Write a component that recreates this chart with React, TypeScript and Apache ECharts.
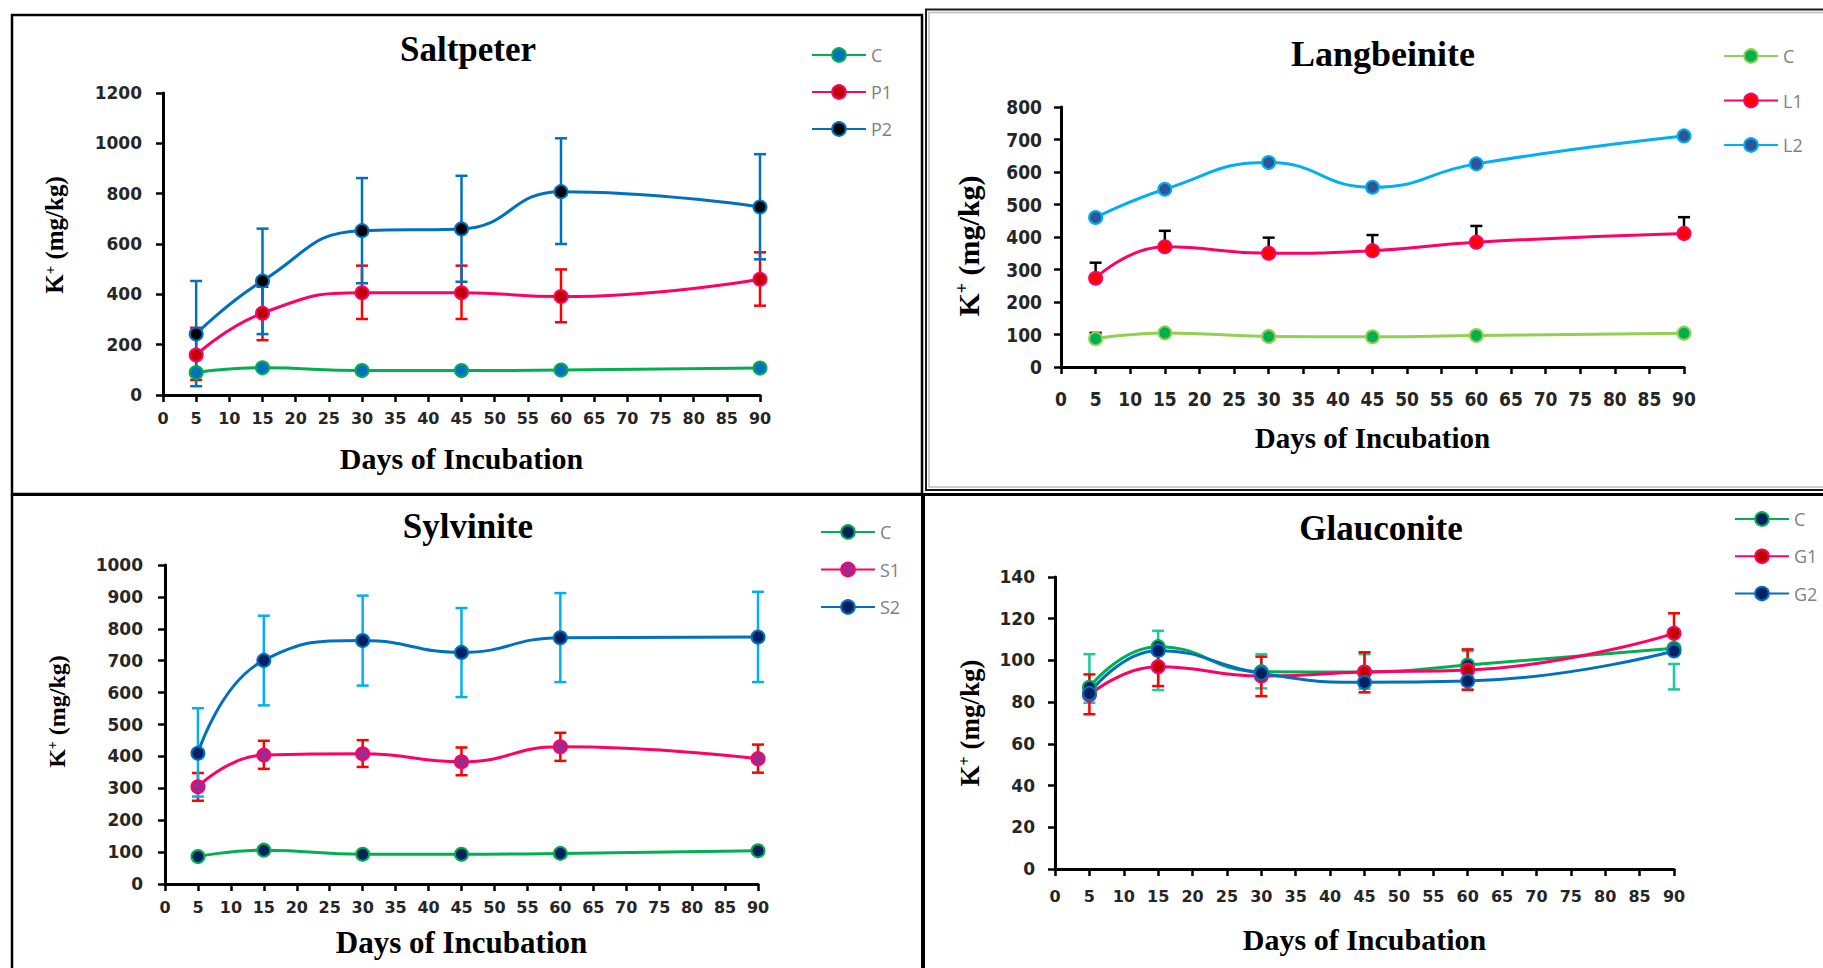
import React, { useEffect, useRef } from "react";
import * as echarts from "echarts";

// ---------- data ----------
const days = [5, 15, 30, 45, 60, 90];

// Saltpeter
const saltC = [89, 108, 97, 97, 99, 107];
const saltP1 = [159, 325, 406, 406, 391, 460];
const saltP2 = [242, 453, 653, 660, 808, 747];
const saltP1Low = [60, 218, 302, 302, 289, 355];
const saltP1High = [267, 430, 514, 514, 499, 567];
const saltP2Low = [35, 242, 444, 450, 600, 539];
const saltP2High = [453, 661, 862, 871, 1020, 957];

// Langbeinite
const langC = [87, 105, 94, 93, 97, 104];
const langL1 = [273, 370, 350, 358, 384, 411];
const langL2 = [460, 547, 629, 553, 625, 711];
const langCLow = [87, null, null, null, null, null];
const langCHigh = [105, null, null, null, null, null];
const langL1Low = [273, 370, 350, 358, 384, 411];
const langL1High = [321, 419, 398, 406, 434, 461];

// Sylvinite
const sylC = [86, 106, 93, 93, 96, 104];
const sylS1 = [305, 404, 408, 383, 430, 393];
const sylS2 = [410, 701, 763, 726, 772, 774];
const sylS1Low = [261, 361, 367, 341, 386, 349];
const sylS1High = [348, 449, 451, 428, 474, 437];
const sylS2Low = [274, 560, 622, 586, 633, 633];
const sylS2High = [551, 841, 904, 865, 912, 916];

// Glauconite
const glaC = [87.1, 106.6, 94.6, 94.4, 97.8, 105.8];
const glaG1 = [83.4, 97, 92.5, 94.4, 95.4, 113];
const glaG2 = [84.2, 104.7, 93.8, 89.5, 90.1, 104.5];
const glaCLow = [79.7, 85.8, 86.6, 86.4, 85.8, 86.1];
const glaCHigh = [103, 114.2, 103, 103, 104.5, 98.3];
const glaG1Low = [74.2, 87.7, 82.9, 84.7, 86, 103.5];
const glaG1High = [93.3, 106.3, 101.8, 103.9, 105.3, 122.6];

// ---------- styling ----------
const SERIF = "'Liberation Serif', 'Times New Roman', serif";
const LABEL_FONT = "'DejaVu Sans', Verdana, sans-serif";
const COND_FONT = "'DejaVu Sans Condensed', 'DejaVu Sans', sans-serif";
const LEGEND_FONT = "'Open Sans', 'Liberation Sans', sans-serif";

type SeriesDef = {
  label: string;
  values: number[];
  line: string;
  fill: string;
  errLow?: (number | null)[];
  errHigh?: (number | null)[];
  errColor?: string;
};

type PanelDef = {
  title: string;
  titleX: number;
  titleTop: number;
  titleSize: number;
  grid: { left: number; top: number; width: number; height: number };
  yMax: number;
  yInterval: number;
  xNameGap: number;
  xNameSize: number;
  yNameGap: number;
  yNameSize: number;
  yNamePad: number[];
  xLabelMargin: number;
  yLabelMargin: number;
  labelFont: string;
  xLabelSize: number;
  yLabelSize: number;
  legendLeft: number;
  legendTop: number;
  legendGap: number;
  series: SeriesDef[];
};

const panels: PanelDef[] = [
  {
    title: "Saltpeter",
    titleX: 468,
    titleTop: 31.5,
    titleSize: 35,
    grid: { left: 163, top: 93, width: 597, height: 302 },
    yMax: 1200,
    yInterval: 200,
    xNameGap: 48.5,
    xNameSize: 30,
    yNameGap: 96,
    yNameSize: 25,
    yNamePad: [0, 0, 0, 18],
    xLabelMargin: 15,
    yLabelMargin: 21,
    labelFont: LABEL_FONT,
    xLabelSize: 16,
    yLabelSize: 17,
    legendLeft: 811,
    legendTop: 45,
    legendGap: 17,
    series: [
      { label: "C", values: saltC, line: "#00b050", fill: "#0070c0" },
      { label: "P1", values: saltP1, line: "#ff0066", fill: "#c00000", errLow: saltP1Low, errHigh: saltP1High, errColor: "#ff0000" },
      { label: "P2", values: saltP2, line: "#0070c0", fill: "#000000", errLow: saltP2Low, errHigh: saltP2High, errColor: "#0070c0" },
    ],
  },
  {
    title: "Langbeinite",
    titleX: 1383,
    titleTop: 36,
    titleSize: 36,
    grid: { left: 1061, top: 107, width: 623, height: 260 },
    yMax: 800,
    yInterval: 100,
    xNameGap: 56,
    xNameSize: 29,
    yNameGap: 78,
    yNameSize: 30,
    yNamePad: [0, 18, 0, 0],
    xLabelMargin: 22,
    yLabelMargin: 19,
    labelFont: COND_FONT,
    xLabelSize: 19,
    yLabelSize: 19,
    legendLeft: 1723,
    legendTop: 46,
    legendGap: 24.5,
    series: [
      { label: "C", values: langC, line: "#92d050", fill: "#00b050", errLow: langCLow, errHigh: langCHigh, errColor: "#000000" },
      { label: "L1", values: langL1, line: "#ff0066", fill: "#ff0000", errLow: langL1Low, errHigh: langL1High, errColor: "#000000" },
      { label: "L2", values: langL2, line: "#00b0f0", fill: "#2f5597" },
    ],
  },
  {
    title: "Sylvinite",
    titleX: 468,
    titleTop: 509,
    titleSize: 35,
    grid: { left: 165, top: 565, width: 593, height: 319 },
    yMax: 1000,
    yInterval: 100,
    xNameGap: 43,
    xNameSize: 31,
    yNameGap: 96,
    yNameSize: 24,
    yNamePad: [0, 0, 0, 26],
    xLabelMargin: 15,
    yLabelMargin: 22,
    labelFont: LABEL_FONT,
    xLabelSize: 16,
    yLabelSize: 17,
    legendLeft: 820,
    legendTop: 522,
    legendGap: 17.5,
    series: [
      { label: "C", values: sylC, line: "#00b050", fill: "#002060" },
      { label: "S1", values: sylS1, line: "#ff0066", fill: "#9e2a8e", errLow: sylS1Low, errHigh: sylS1High, errColor: "#ff0000" },
      { label: "S2", values: sylS2, line: "#0070c0", fill: "#002060", errLow: sylS2Low, errHigh: sylS2High, errColor: "#00b0f0" },
    ],
  },
  {
    title: "Glauconite",
    titleX: 1381,
    titleTop: 510.5,
    titleSize: 35,
    grid: { left: 1055, top: 577, width: 619, height: 292 },
    yMax: 140,
    yInterval: 20,
    xNameGap: 55,
    xNameSize: 30,
    yNameGap: 72,
    yNameSize: 27,
    yNamePad: [0, 0, 0, 0],
    xLabelMargin: 19,
    yLabelMargin: 20,
    labelFont: LABEL_FONT,
    xLabelSize: 16,
    yLabelSize: 17,
    legendLeft: 1734,
    legendTop: 509,
    legendGap: 17.3,
    series: [
      { label: "C", values: glaC, line: "#00b050", fill: "#002060", errLow: glaCLow, errHigh: glaCHigh, errColor: "#19cc99" },
      { label: "G1", values: glaG1, line: "#ff0066", fill: "#c00000", errLow: glaG1Low, errHigh: glaG1High, errColor: "#ff0000" },
      { label: "G2", values: glaG2, line: "#0070c0", fill: "#002060" },
    ],
  },
];

function errRender(color: string) {
  return (params: any, api: any) => {
    const x = api.value(0);
    const lo = api.value(1);
    const hi = api.value(2);
    const a = api.coord([x, lo]);
    const b = api.coord([x, hi]);
    const cap = 6;
    const style = { stroke: color, lineWidth: 2.5 };
    return {
      type: "group",
      children: [
        { type: "line", shape: { x1: a[0], y1: a[1], x2: b[0], y2: b[1] }, style },
        { type: "line", shape: { x1: b[0] - cap, y1: b[1], x2: b[0] + cap, y2: b[1] }, style },
        { type: "line", shape: { x1: a[0] - cap, y1: a[1], x2: a[0] + cap, y2: a[1] }, style },
      ],
    };
  };
}

function buildOption() {
  const title: any[] = [];
  const grid: any[] = [];
  const xAxis: any[] = [];
  const yAxis: any[] = [];
  const legend: any[] = [];
  const series: any[] = [];

  panels.forEach((p, i) => {
    title.push({
      text: p.title,
      left: p.titleX,
      top: p.titleTop,
      textAlign: "center",
      padding: 0,
      textStyle: { fontFamily: SERIF, fontWeight: "bold", fontSize: p.titleSize, color: "#000" },
    });
    grid.push({ ...p.grid });
    const axisLine = { show: true, lineStyle: { color: "#000", width: 3 } };
    const axisTick = { show: true, inside: false, length: 7, lineStyle: { color: "#000", width: 2.5 } };
    xAxis.push({
      type: "value",
      gridIndex: i,
      min: 0,
      max: 90,
      interval: 5,
      axisLine,
      axisTick,
      splitLine: { show: false },
      axisLabel: {
        margin: p.xLabelMargin,
        fontFamily: p.labelFont,
        fontWeight: "bold",
        fontSize: p.xLabelSize,
        color: "#262626",
        formatter: (v: number) => String(v),
      },
      name: "Days of Incubation",
      nameLocation: "middle",
      nameGap: p.xNameGap,
      nameTextStyle: { fontFamily: SERIF, fontWeight: "bold", fontSize: p.xNameSize, color: "#000" },
    });
    yAxis.push({
      type: "value",
      gridIndex: i,
      min: 0,
      max: p.yMax,
      interval: p.yInterval,
      axisLine,
      axisTick,
      splitLine: { show: false },
      axisLabel: {
        margin: p.yLabelMargin,
        fontFamily: p.labelFont,
        fontWeight: "bold",
        fontSize: p.yLabelSize,
        color: "#262626",
        formatter: (v: number) => String(v),
      },
      name: "{k|K}{s|+}{k| (mg/kg)}",
      nameLocation: "middle",
      nameRotate: 90,
      nameGap: p.yNameGap,
      nameTextStyle: {
        padding: p.yNamePad,
        rich: {
          k: { fontFamily: SERIF, fontWeight: "bold", fontSize: p.yNameSize, color: "#000" },
          s: {
            fontFamily: SERIF,
            fontWeight: "bold",
            fontSize: Math.round(p.yNameSize * 0.6),
            color: "#000",
            verticalAlign: "top",
          },
        },
      },
    });
    legend.push({
      orient: "vertical",
      left: p.legendLeft,
      top: p.legendTop,
      itemGap: p.legendGap,
      itemWidth: 54,
      itemHeight: 17,
      padding: 0,
      selectedMode: false,
      data: p.series.map((s) => `${p.title} ${s.label}`),
      formatter: (name: string) => name.split(" ").pop(),
      textStyle: { fontFamily: LEGEND_FONT, fontSize: 18, color: "#7f7f7f", lineHeight: 20 },
    });
    p.series.forEach((s) => {
      if (s.errLow && s.errHigh) {
        const data: number[][] = [];
        days.forEach((d, k) => {
          const lo = s.errLow![k];
          const hi = s.errHigh![k];
          if (lo != null && hi != null) data.push([d, lo, hi]);
        });
        series.push({
          type: "custom",
          name: `${p.title} ${s.label} err`,
          xAxisIndex: i,
          yAxisIndex: i,
          z: 1,
          silent: true,
          encode: { x: 0, y: [1, 2] },
          renderItem: errRender(s.errColor || s.line),
          data,
        });
      }
      series.push({
        type: "line",
        name: `${p.title} ${s.label}`,
        xAxisIndex: i,
        yAxisIndex: i,
        z: 3,
        data: days.map((d, k) => [d, s.values[k]]),
        smooth: 0.5,
        symbol: "circle",
        symbolSize: 13,
        showSymbol: true,
        lineStyle: { color: s.line, width: 3 },
        itemStyle: { color: s.fill, borderColor: s.line, borderWidth: 2 },
        emphasis: { disabled: true },
      });
    });
  });

  const graphic = [
    { type: "rect", shape: { x: 12, y: 15, width: 910, height: 479 }, style: { fill: "none", stroke: "#000", lineWidth: 2.5 }, silent: true },
    { type: "rect", shape: { x: 926, y: 9.5, width: 920, height: 480.5 }, style: { fill: "none", stroke: "#1a1a1a", lineWidth: 2 }, silent: true },
    { type: "rect", shape: { x: 929, y: 12.5, width: 910, height: 474.5 }, style: { fill: "none", stroke: "#bdbdbd", lineWidth: 1.5 }, silent: true },
    { type: "line", shape: { x1: 12, y1: 494.5, x2: 1823, y2: 494.5 }, style: { stroke: "#000", lineWidth: 3 }, silent: true },
    { type: "line", shape: { x1: 923, y1: 494, x2: 923, y2: 968 }, style: { stroke: "#000", lineWidth: 4 }, silent: true },
    { type: "line", shape: { x1: 12, y1: 494, x2: 12, y2: 968 }, style: { stroke: "#000", lineWidth: 2.5 }, silent: true },
  ];

  return {
    animation: false,
    backgroundColor: "#ffffff",
    title,
    grid,
    xAxis,
    yAxis,
    legend,
    series,
    graphic,
  };
}

export default function App() {
  const ref = useRef<HTMLDivElement>(null);
  useEffect(() => {
    document.body.style.margin = "0";
    const chart = echarts.init(ref.current as HTMLDivElement, null, { renderer: "svg" });
    chart.setOption(buildOption() as any);
    return () => {
      chart.dispose();
    };
  }, []);
  return <div ref={ref} style={{ width: 1823, height: 968 }} />;
}
